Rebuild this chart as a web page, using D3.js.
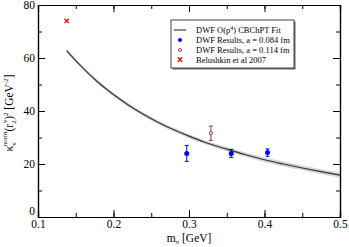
<!DOCTYPE html>
<html>
<head>
<meta charset="utf-8">
<script src="https://cdn.jsdelivr.net/npm/d3@7"></script>
<style>
body { margin: 0; background: #fff; }
text { font-family: "Liberation Serif", "DejaVu Serif", serif; }
</style>
</head>
<body>
<div id="chart"></div>
<script>
// fit curve
var fitM   = [0.138, 0.15, 0.16, 0.175, 0.19, 0.2, 0.22, 0.24, 0.26, 0.28, 0.30, 0.32, 0.35, 0.375, 0.40, 0.425, 0.45, 0.475, 0.5];
var fitVal = [62.8, 59.0, 56.1, 52.0, 48.4, 46.2, 42.2, 38.7, 35.6, 32.9, 30.5, 28.3, 25.6, 23.5, 21.6, 20.0, 18.5, 17.1, 15.8];
var fitErr = [0.7, 0.7, 0.7, 0.7, 0.7, 0.7, 0.7, 0.7, 0.7, 0.75, 0.75, 0.75, 0.8, 0.8, 0.85, 0.9, 0.9, 0.95, 1.0];

// lattice points
var dwf084M   = [0.297, 0.356, 0.404];
var dwf084Val = [24.0, 24.0, 24.3];
var dwf084Err = [3.0, 1.5, 1.4];

var dwf114M   = [0.329];
var dwf114Val = [31.6];
var dwf114Err = [2.7];

var belM   = [0.138];
var belVal = [74.0];

var xTicks = [0.1, 0.2, 0.3, 0.4, 0.5];
var yTicks = [0, 20, 40, 60, 80];

var width = 349, height = 247;
margin = {top: 5, right: 9, bottom: 30, left: 38};
var w = width - margin.left - margin.right;
var h = height - margin.top - margin.bottom;

var svg = d3.select("#chart").append("svg")
    .attr("width", width)
    .attr("height", height);

var g = svg.append("g")
    .attr("transform", "translate(" + margin.left + "," + margin.top + ")");

var x = d3.scaleLinear().domain([0.1, 0.5]).range([0, w]);
var y = d3.scaleLinear().domain([0, 80]).range([h, 0]);

// fit band + line
var fit = fitM.map(function(m, i){ return {m: m, v: fitVal[i], e: fitErr[i]}; });

g.append("path")
    .datum(fit)
    .attr("fill", "#d6d6d6")
    .attr("d", d3.area()
        .curve(d3.curveMonotoneX)
        .x(function(d){ return x(d.m); })
        .y0(function(d){ return y(d.v - d.e); })
        .y1(function(d){ return y(d.v + d.e); }));

g.append("path")
    .datum(fit)
    .attr("fill", "none")
    .attr("stroke", "#333")
    .attr("stroke-width", 1.2)
    .attr("d", d3.line()
        .curve(d3.curveMonotoneX)
        .x(function(d){ return x(d.m); })
        .y(function(d){ return y(d.v); }));

// error bars
function errorBars(ms, vals, errs, color){
    var data = ms.map(function(m, i){ return {m: m, v: vals[i], e: errs[i]}; });
    var eb = g.append("g").attr("stroke", color).attr("stroke-width", 1);
    eb.selectAll(".vbar").data(data).enter().append("line")
        .attr("x1", function(d){ return x(d.m); })
        .attr("x2", function(d){ return x(d.m); })
        .attr("y1", function(d){ return y(d.v - d.e); })
        .attr("y2", function(d){ return y(d.v + d.e); });
    [-1, 1].forEach(function(s){
        eb.selectAll(".cap" + s).data(data).enter().append("line")
            .attr("x1", function(d){ return x(d.m) - 2; })
            .attr("x2", function(d){ return x(d.m) + 2; })
            .attr("y1", function(d){ return y(d.v + s * d.e); })
            .attr("y2", function(d){ return y(d.v + s * d.e); });
    });
    return data;
}

var d084 = errorBars(dwf084M, dwf084Val, dwf084Err, "#0000ff");
var d114 = errorBars(dwf114M, dwf114Val, dwf114Err, "#993366");

g.selectAll(".p084").data(d084).enter().append("circle")
    .attr("cx", function(d){ return x(d.m); })
    .attr("cy", function(d){ return y(d.v); })
    .attr("r", 2.5)
    .attr("fill", "#0000ff");

g.selectAll(".p114").data(d114).enter().append("circle")
    .attr("cx", function(d){ return x(d.m); })
    .attr("cy", function(d){ return y(d.v); })
    .attr("r", 1.6)
    .attr("fill", "#fff")
    .attr("stroke", "#993366")
    .attr("stroke-width", 1);

function cross(sel, cx, cy, r, color){
    sel.append("path")
        .attr("d", "M" + (cx - r) + "," + (cy - r) + "L" + (cx + r) + "," + (cy + r) +
                   "M" + (cx - r) + "," + (cy + r) + "L" + (cx + r) + "," + (cy - r))
        .attr("stroke", color)
        .attr("stroke-width", 1.3);
}
belM.forEach(function(m, i){ cross(g, x(m), y(belVal[i]), 2.2, "#ff0000"); });

// axes: ticks inward on all sides
var xMinor = d3.range(0.1, 0.5001, 0.05);
var yMinor = d3.range(0, 80.01, 10);

g.append("g").attr("class", "axis axis--x")
    .attr("transform", "translate(0," + h + ")")
    .call(d3.axisBottom(x).tickValues(xMinor).tickSize(-4).tickFormat(""));
g.append("g").attr("class", "axis axis--x")
    .attr("transform", "translate(0," + h + ")")
    .call(d3.axisBottom(x).tickValues(xTicks).tickSize(-7).tickPadding(6).tickFormat(d3.format(".1f")));
g.append("g").attr("class", "axis axis--x2")
    .call(d3.axisTop(x).tickValues(xMinor).tickSize(-4).tickFormat(""));
g.append("g").attr("class", "axis axis--x2")
    .call(d3.axisTop(x).tickValues(xTicks).tickSize(-7).tickFormat(""));

g.append("g").attr("class", "axis axis--y")
    .call(d3.axisLeft(y).tickValues(yMinor).tickSize(-4).tickFormat(""));
g.append("g").attr("class", "axis axis--y")
    .call(d3.axisLeft(y).tickValues(yTicks).tickSize(-7).tickPadding(3).tickFormat(d3.format("d")));
g.append("g").attr("class", "axis axis--y2")
    .attr("transform", "translate(" + w + ",0)")
    .call(d3.axisRight(y).tickValues(yMinor).tickSize(-4).tickFormat(""));
g.append("g").attr("class", "axis axis--y2")
    .attr("transform", "translate(" + w + ",0)")
    .call(d3.axisRight(y).tickValues(yTicks).tickSize(-7).tickFormat(""));

g.selectAll(".axis .domain").attr("stroke", "#000").attr("stroke-width", 1.2);
g.selectAll(".axis text")
    .style("font-family", "Liberation Serif, serif")
    .style("font-size", "11.5px")
    .attr("fill", "#000");
g.selectAll(".axis--x text").attr("dy", "0.4em");
// keep the "0" clear of "0.1" below it
g.selectAll(".axis--y text").filter(function(d){ return d === 0; }).attr("dy", "-0.2em");

// axis titles
var xt = svg.append("text")
    .attr("x", margin.left + w / 2)
    .attr("y", 242)
    .attr("text-anchor", "middle")
    .style("font-size", "11.5px");
xt.append("tspan").text("m");
xt.append("tspan").attr("dy", 2).style("font-size", "7px").text("π");
xt.append("tspan").attr("dy", -2).text(" [GeV]");

var yt = svg.append("text")
    .attr("transform", "translate(13," + (margin.top + h / 2 + 2) + ") rotate(-90)")
    .attr("text-anchor", "middle")
    .style("font-size", "11.5px");
yt.append("tspan").text("κ");
yt.append("tspan").attr("dy", 3).style("font-size", "7px").text("v");
yt.append("tspan").attr("dy", -9).attr("dx", -4).style("font-size", "7px").text("norm");
yt.append("tspan").attr("dy", 6).text("(r");
yt.append("tspan").attr("dy", 3).style("font-size", "7px").text("2");
yt.append("tspan").attr("dy", -9).attr("dx", -3).style("font-size", "7px").text("v");
yt.append("tspan").attr("dy", 6).text(")");
yt.append("tspan").attr("dy", -5).style("font-size", "7px").text("2");
yt.append("tspan").attr("dy", 5).text(" [GeV");
yt.append("tspan").attr("dy", -5).style("font-size", "7px").text("-2");
yt.append("tspan").attr("dy", 5).text("]");

// legend
var lg = svg.append("g").attr("transform", "translate(171,20)");
lg.append("rect").attr("x", 1.5).attr("y", 1.5).attr("width", 123).attr("height", 48).attr("fill", "#666");
lg.append("rect").attr("width", 123).attr("height", 48)
    .attr("fill", "#fff").attr("stroke", "#444").attr("stroke-width", 1);

var rowY = [10, 20, 30, 39.5];
lg.append("line").attr("x1", 3).attr("x2", 15).attr("y1", rowY[0]).attr("y2", rowY[0])
    .attr("stroke", "#666").attr("stroke-width", 1.5);
lg.append("circle").attr("cx", 9).attr("cy", rowY[1]).attr("r", 2).attr("fill", "#0000ff");
lg.append("circle").attr("cx", 9).attr("cy", rowY[2]).attr("r", 1.5)
    .attr("fill", "#fff").attr("stroke", "#993366");
cross(lg, 9, rowY[3], 2.2, "#ff0000");

var lt = lg.append("g").style("font-size", "8.5px");
var t0 = lt.append("text").attr("x", 25).attr("y", rowY[0] + 3);
t0.append("tspan").text("DWF O(p");
t0.append("tspan").attr("dy", -3).style("font-size", "6px").text("4");
t0.append("tspan").attr("dy", 3).text(") CBChPT Fit");
lt.append("text").attr("x", 25).attr("y", rowY[1] + 3).text("DWF Results, a = 0.084 fm");
lt.append("text").attr("x", 25).attr("y", rowY[2] + 3).text("DWF Results, a = 0.114 fm");
lt.append("text").attr("x", 25).attr("y", rowY[3] + 3).text("Belushkin et al 2007");
</script>
</body>
</html>
